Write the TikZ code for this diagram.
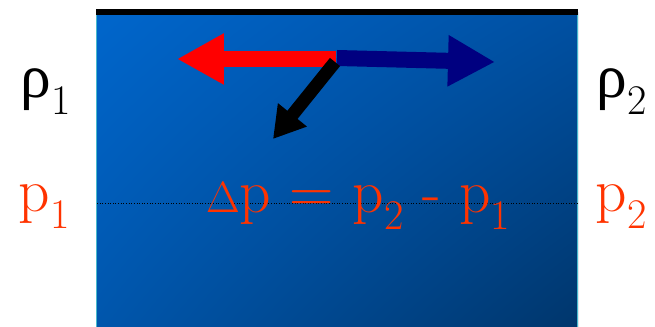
\documentclass[tikz,border=0pt]{standalone}
\usepackage{fontspec}
\newfontfamily\greekfont{Liberation Serif}
\usetikzlibrary{arrows.meta,shadings}

\definecolor{tubeTL}{RGB}{0,102,204}
\definecolor{tubeTR}{RGB}{0,80,162}
\definecolor{tubeBL}{RGB}{0,86,172}
\definecolor{tubeBR}{RGB}{0,54,108}
\definecolor{tubeEdge}{RGB}{70,185,205}
\definecolor{pressRed}{RGB}{255,51,0}
\definecolor{forceNavy}{RGB}{0,0,128}

\newcommand\lowsub[1]{\raisebox{-0.27em}{\fontsize{24}{24}\selectfont #1}}

\begin{document}
\begin{tikzpicture}[x=0.02cm, y=0.02cm,
    lbl/.style={font=\fontsize{35}{40}\selectfont, inner sep=0pt, anchor=base},
    dens/.style={lbl, text=black},
    pres/.style={lbl, text=pressRed},
    force/.style={line width=0.32cm, -{Triangle[length=9.4mm, width=9.6mm]}},
    pull/.style={line width=0.26cm, -{Triangle[length=6.2mm, width=7mm]}},
]
\useasboundingbox (0,0) rectangle (655,327);

% === Tube section ===
\shade[upper left=tubeTL, upper right=tubeTR, lower left=tubeBL, lower right=tubeBR]
  (96,0) rectangle (578,314);
\draw[tubeEdge, line width=0.7pt] (96.5,0) -- (96.5,314) (577.5,0) -- (577.5,314);
\draw[line width=3.4pt] (96,315) -- (578,315);

% === Level of the pressure ===
\coordinate (lvlL) at (97,124);
\coordinate (lvlR) at (577,124);
\draw[densely dotted, line width=0.5pt] (lvlL) -- (lvlR);

% === Forces ===
\coordinate (o)     at (336,268);
\coordinate (oR)    at (337,269);
\coordinate (leftT) at (177,268);
\coordinate (rightT) at (495,265);
\coordinate (downT) at (273,188);
\draw[force, red] (o) -- (leftT);
\draw[force, forceNavy] (oR) -- (rightT);
\draw[pull, black] (335,265) -- (downT);

% === Labels ===
\node[dens] (rho1) at (46,229)  {{\greekfont ρ}\lowsub{1}};
\node[dens] (rho2) at (622,229) {{\greekfont ρ}\lowsub{2}};
\node[pres] (p1)   at (44,115)  {p\lowsub{1}};
\node[pres] (p2)   at (621,115) {p\lowsub{2}};
\node[pres] (dp)   at (358,114) {$\Delta$p = p\lowsub{2} - p\lowsub{1}};

\end{tikzpicture}
\end{document}
